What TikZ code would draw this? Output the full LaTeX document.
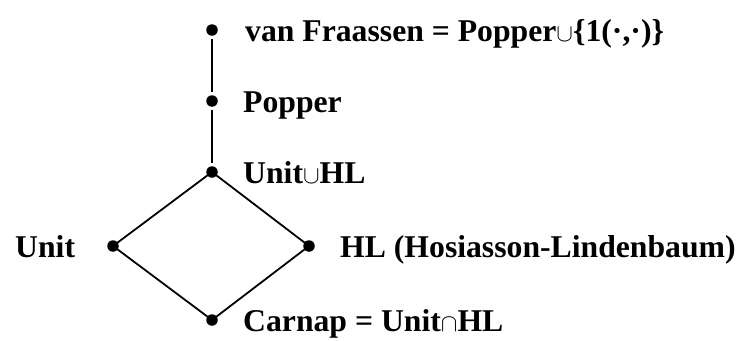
\documentclass[tikz,border=0pt]{standalone}
\usepackage{fontspec}
\setmainfont{Liberation Serif}
\begin{document}
\begin{tikzpicture}[x=1pt,y=-1pt,
  pt/.style={circle,fill=black,inner sep=0pt,minimum size=11.5pt},
  lbl/.style={anchor=base west,inner sep=0pt,font=\fontsize{31.7}{38}\selectfont\bfseries},
  edge/.style={line width=1.8pt},
  gapped/.style={edge,shorten >=9pt,shorten <=9pt}]
\useasboundingbox (0,0) rectangle (741,340);
% lattice points
\node[pt] (vf) at (212,30) {};
\node[pt] (po) at (212,101) {};
\node[pt] (uh) at (212,172) {};
\node[pt] (un) at (113,246) {};
\node[pt] (hl) at (309,246) {};
\node[pt] (ca) at (212,320) {};
% labels
\node[lbl] (tvf) at (245,41) {van Fraassen = Popper\(\cup\)\{1(·,·)\}};
\node[lbl] (tpo) at (243,112) {Popper};
\node[lbl] (tuh) at (243,183) {Unit\(\cup\)HL};
\node[lbl] (tun) at (15,257) {Unit};
\node[lbl] (thl) at (340,257) {HL (Hosiasson-Lindenbaum)};
\node[lbl] (tca) at (243,331) {Carnap = Unit\(\cap\)HL};
% order relations
\draw[gapped] (vf.center) -- (po.center);
\draw[gapped] (po.center) -- (uh.center);
\draw[edge] (uh.center) -- (un.center) -- (ca.center) -- (hl.center) -- cycle;
\end{tikzpicture}
\end{document}
